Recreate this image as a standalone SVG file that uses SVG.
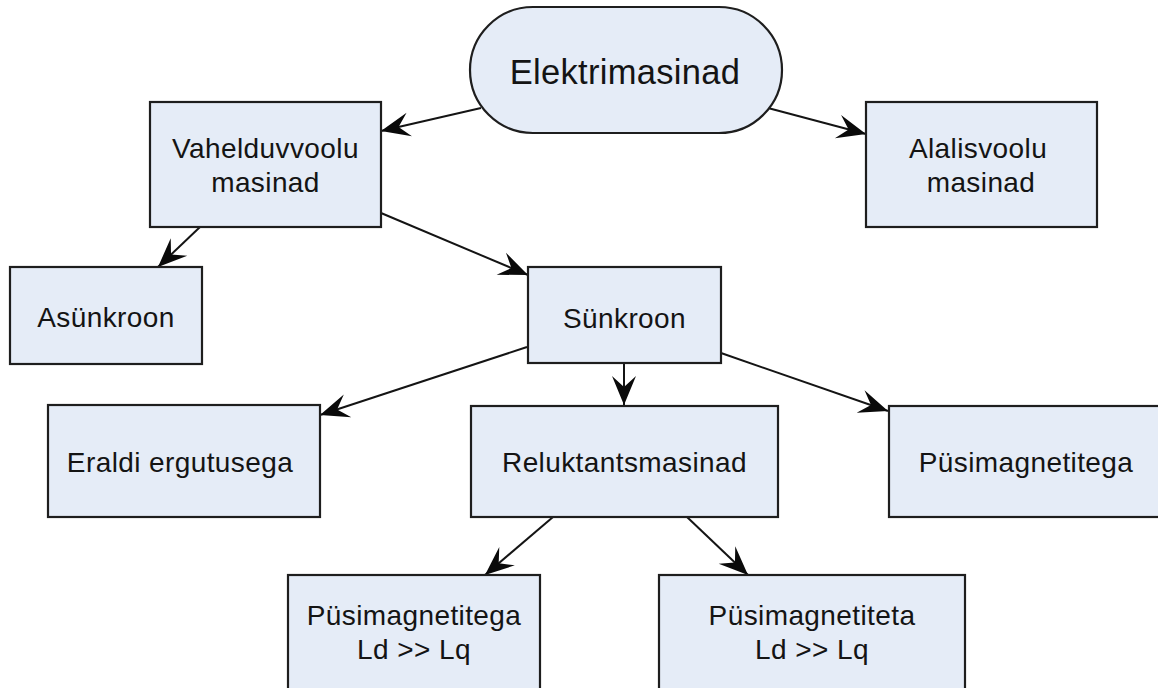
<svg xmlns="http://www.w3.org/2000/svg" width="1158" height="688" viewBox="0 0 1158 688">
<style>
.box{fill:#E5ECF7;stroke:#1e1e1e;stroke-width:2.2}
.t{font-family:"Liberation Sans",Arial,sans-serif;font-size:28px;fill:#141414;text-anchor:middle;letter-spacing:0.4px}
.big{font-size:34.5px;letter-spacing:0.3px}
.c{stroke:#141414;stroke-width:2;fill:none;marker-end:url(#ah)}
</style>
<defs>
<marker id="ah" markerUnits="userSpaceOnUse" markerWidth="34" markerHeight="28" viewBox="-31 -14 34 28" refX="0" refY="0" orient="auto">
<path d="M0,0 L-29,-12 L-18,0 L-29,12 Z" fill="#0a0a0a"/>
</marker>
</defs>
<rect width="1158" height="688" fill="#ffffff"/>
<g id="connectors">
<line class="c" x1="481" y1="108" x2="381" y2="131"/>
<line class="c" x1="768" y1="108" x2="866" y2="134"/>
<line class="c" x1="200" y1="227" x2="158" y2="267"/>
<line class="c" x1="381" y1="213" x2="528" y2="275"/>
<line class="c" x1="527" y1="347" x2="320" y2="415"/>
<line class="c" x1="624" y1="363" x2="624" y2="405"/>
<line class="c" x1="721" y1="353" x2="888" y2="411"/>
<line class="c" x1="553" y1="517" x2="485" y2="575"/>
<line class="c" x1="687" y1="517" x2="748" y2="575"/>
</g>
<g id="n-elektrimasinad">
<rect class="box" x="470" y="7" width="312" height="126" rx="63" ry="63"/>
<text class="t big" x="625" y="84">Elektrimasinad</text>
</g>
<g id="n-vahelduvvoolu">
<rect class="box" x="150" y="102" width="231" height="125"/>
<text class="t" x="265.5" y="158">Vahelduvvoolu</text>
<text class="t" x="265.5" y="192">masinad</text>
</g>
<g id="n-alalisvoolu">
<rect class="box" x="866" y="102" width="231" height="125"/>
<text class="t" x="978" y="158">Alalisvoolu</text>
<text class="t" x="981" y="192">masinad</text>
</g>
<g id="n-asunkroon">
<rect class="box" x="10" y="267" width="192" height="97"/>
<text class="t" x="106" y="327">Asünkroon</text>
</g>
<g id="n-sunkroon">
<rect class="box" x="528" y="267" width="193" height="96"/>
<text class="t" x="624.5" y="328">Sünkroon</text>
</g>
<g id="n-eraldi">
<rect class="box" x="48" y="405" width="272" height="112"/>
<text class="t" x="180" y="472">Eraldi ergutusega</text>
</g>
<g id="n-reluktants">
<rect class="box" x="471" y="406" width="307" height="111"/>
<text class="t" x="624.5" y="472">Reluktantsmasinad</text>
</g>
<g id="n-pusimagnetitega">
<rect class="box" x="889" y="406" width="276" height="111"/>
<text class="t" x="1026" y="472">Püsimagnetitega</text>
</g>
<g id="n-pusimagnetitega-ld">
<rect class="box" x="288" y="575" width="252" height="125"/>
<text class="t" x="414" y="625">Püsimagnetitega</text>
<text class="t" x="414" y="659">Ld &gt;&gt; Lq</text>
</g>
<g id="n-pusimagnetiteta-ld">
<rect class="box" x="659" y="575" width="306" height="125"/>
<text class="t" x="812" y="625">Püsimagnetiteta</text>
<text class="t" x="812" y="659">Ld &gt;&gt; Lq</text>
</g>
</svg>
